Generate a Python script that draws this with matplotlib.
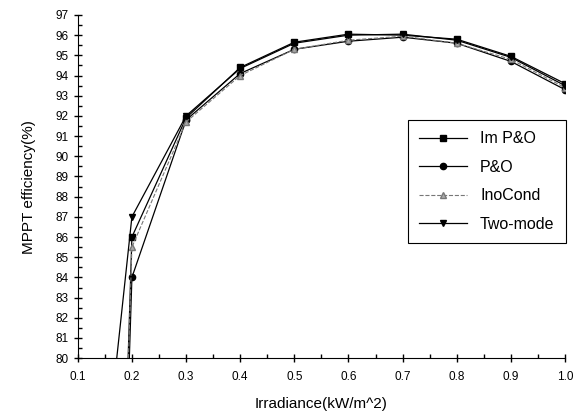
import matplotlib
matplotlib.use("Agg")
import matplotlib.pyplot as plt
from matplotlib.ticker import MultipleLocator

plt.rcParams['font.family'] = ['Liberation Sans', 'DejaVu Sans']

irradiance = [0.1, 0.2, 0.3, 0.4, 0.5, 0.6, 0.7, 0.8, 0.9, 1.0]
im_po = [0.0, 86.0, 91.9, 94.4, 95.65, 96.05, 96.0, 95.8, 94.95, 93.6]
po = [0.0, 84.0, 91.8, 94.1, 95.3, 95.7, 95.9, 95.6, 94.7, 93.3]
inocond = [0.0, 85.5, 91.7, 94.0, 95.3, 95.75, 95.95, 95.6, 94.8, 93.4]
two_mode = [62.0, 87.0, 92.0, 94.35, 95.6, 96.0, 96.05, 95.75, 94.9, 93.5]
xtick_labels = ['0.1', '0.2', '0.3', '0.4', '0.5', '0.6', '0.7', '0.8', '0.9', '1.0']

fig = plt.figure(figsize=(5.76, 4.16), dpi=100)
ax = fig.add_axes([0.135, 0.139, 0.846, 0.825])

ax.plot(irradiance, im_po, color='black', lw=0.9, marker='s', ms=4.5, label='Im P&O')
ax.plot(irradiance, po, color='black', lw=0.9, marker='o', ms=4.5, label='P&O')
ax.plot(irradiance, inocond, color='#777777', lw=0.8, ls='--', marker='^', ms=4,
        markerfacecolor='#aaaaaa', markeredgecolor='#777777', label='InoCond')
ax.plot(irradiance, two_mode, color='black', lw=0.9, marker='v', ms=4.5, label='Two-mode')

ax.set_xlim(0.1, 1.0)
ax.set_ylim(80, 97)
ax.set_xticks(irradiance)
ax.set_xticklabels(xtick_labels)
ax.xaxis.set_minor_locator(MultipleLocator(0.05))
ax.yaxis.set_major_locator(MultipleLocator(1))
ax.yaxis.set_minor_locator(MultipleLocator(0.5))

ax.spines['top'].set_visible(False)
ax.spines['right'].set_visible(False)
ax.tick_params(which='major', direction='inout', length=6, width=1, labelsize=8.5)
ax.tick_params(axis='x', which='major', pad=6)
ax.tick_params(which='minor', direction='in', length=3, width=1)

ax.set_xlabel('Irradiance(kW/m^2)', fontsize=11, labelpad=10)
ax.set_ylabel('MPPT efficiency(%)', fontsize=11, labelpad=14)

leg = ax.legend(loc='upper left', bbox_to_anchor=(0.678, 0.694), fontsize=11.5,
                frameon=True, fancybox=False, edgecolor='black', framealpha=1,
                handlelength=3.0, borderpad=0.7, labelspacing=0.85, borderaxespad=0)
leg.get_frame().set_linewidth(0.8)

fig.savefig('out.png', dpi=100)
